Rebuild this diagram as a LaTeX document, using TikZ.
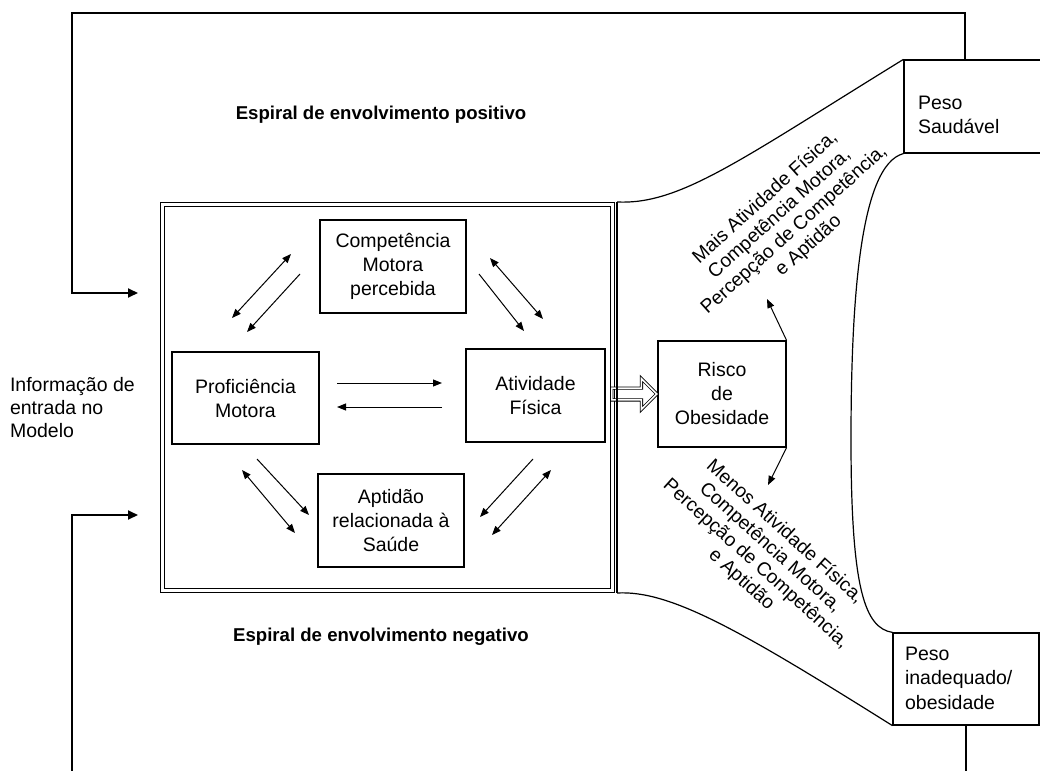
\documentclass[tikz,border=0pt]{standalone}
\usepackage{fontspec}
\setmainfont{Liberation Sans}
\usetikzlibrary{arrows.meta,shapes.arrows}

\tikzset{
  caixa/.style={draw, line width=0.6pt, align=center, inner sep=0pt, font=\fontsize{9.75}{12}\selectfont},
  texto/.style={align=left, font=\fontsize{9.75}{12}\selectfont},
  inclinado/.style={align=center, inner sep=1pt, font=\fontsize{9.6}{10.8}\selectfont},
  titulo/.style={font=\bfseries\fontsize{9.3}{11}\selectfont},
  seta/.style={-{Triangle[length=4.5pt,width=3.5pt]}, line width=0.5pt},
  setadupla/.style={{Triangle[length=4.5pt,width=3.5pt]}-{Triangle[length=4.5pt,width=3.5pt]}, line width=0.5pt},
  setabloco/.style={single arrow, draw, double, line width=0.4pt, double distance=0.8pt, inner xsep=0pt, inner ysep=2.75pt,
    single arrow head extend=4.75pt, minimum height=22.5pt, anchor=tip},
  retorno/.style={line width=1pt},
}

\begin{document}
\begin{tikzpicture}[x=0.5pt, y=-0.5pt]
\useasboundingbox (0,0) rectangle (1040,771);

% modelo central
\node[draw, double, double distance=1.5pt, line width=0.5pt, minimum width=225pt, minimum height=193pt, inner sep=0pt] (quadro) at (387.5,397.5) {};

\node[caixa, minimum width=73pt, minimum height=46.5pt] (comp) at (393,266.5) {Competência\\Motora\\percebida};
\node[caixa, minimum width=73.5pt, minimum height=46pt] (prof) at (245.5,398) {Proficiência\\Motora};
\node[caixa, minimum width=69.5pt, minimum height=46.5pt] (ativ) at (535.5,395.5) {Atividade\\Física};
\node[caixa, minimum width=73pt, minimum height=46.5pt] (apt) at (391,520.5) {Aptidão\\relacionada à\\Saúde};

\draw[setadupla] (232,318) -- (291,254);
\draw[seta] (300,274) -- (247,332);
\draw[setadupla] (490,258) -- (543,319);
\draw[seta] (479,274) -- (524,331);
\draw[seta] (337,383) -- (442,383);
\draw[seta] (442,407) -- (337,407);
\draw[setadupla] (242,470) -- (295,533);
\draw[seta] (257,459) -- (309,515);
\draw[seta] (533,459) -- (480,517);
\draw[setadupla] (551,470) -- (492,535);

% risco e resultados
\node[caixa, minimum width=64pt, minimum height=53pt] (risco) at (722,394) {Risco\\de\\Obesidade};
\node[setabloco] (implica) at (risco.west) {};

\node[caixa, minimum width=73pt, minimum height=46.5pt] (saud) at (977,106.5) {};
\node[texto] (saudtxt) at (911,115) [anchor=west] {Peso\\Saudável};
\node[caixa, minimum width=73pt, minimum height=46pt] (inad) at (966,679) {};
\node[texto, font=\fontsize{9.75}{12.25}\selectfont] (inadtxt) at (898,678) [anchor=west] {Peso\\inadequado/\\obesidade};

\coordinate (fa) at (617,202);
\coordinate (fb) at (617,593);
\draw[line width=0.6pt] (fa) -- (fb);
\draw[line width=0.6pt] (fa) .. controls (680,205) and (740,160) .. (saud.north west);
\draw[line width=0.6pt] (fb) .. controls (670,590) and (740,630) .. (inad.south west);
\draw[line width=0.6pt] (saud.south west) .. controls (860,165) and (851,300) .. (851,440)
  .. controls (851,590) and (865,628) .. (inad.north west);

\draw[seta] (risco.north east) -- (767,299);
\draw[seta] (risco.south east) -- (768,485);

\node[inclinado, rotate=42] (mais) at (787,222) {Mais Atividade Física,\\Competência Motora,\\Percepção de Competência,\\e Aptidão};
\node[inclinado, rotate=-42] (menos) at (763,556) {Menos Atividade Física,\\Competência Motora,\\Percepção de Competência,\\e Aptidão};

% espirais
\node[titulo] (positivo) at (381,115) {Espiral de envolvimento positivo};
\node[titulo] (negativo) at (381,637) {Espiral de envolvimento negativo};
\node[texto, font=\fontsize{9.75}{11.5}\selectfont] (entrada) at (3,408) [anchor=west] {Informação de\\entrada no\\Modelo};

\coordinate (ent1) at (138,293);
\coordinate (ent2) at (138,515);
\draw[retorno, -{Triangle[length=5pt,width=4.5pt]}] ([xshift=-6pt]saud.north) |- (72,13) |- (ent1);
\draw[retorno] (inad.south) -- (inad.south |- 0,775);
\draw[retorno, -{Triangle[length=5pt,width=4.5pt]}] (72,775) |- (ent2);

\end{tikzpicture}
\end{document}
